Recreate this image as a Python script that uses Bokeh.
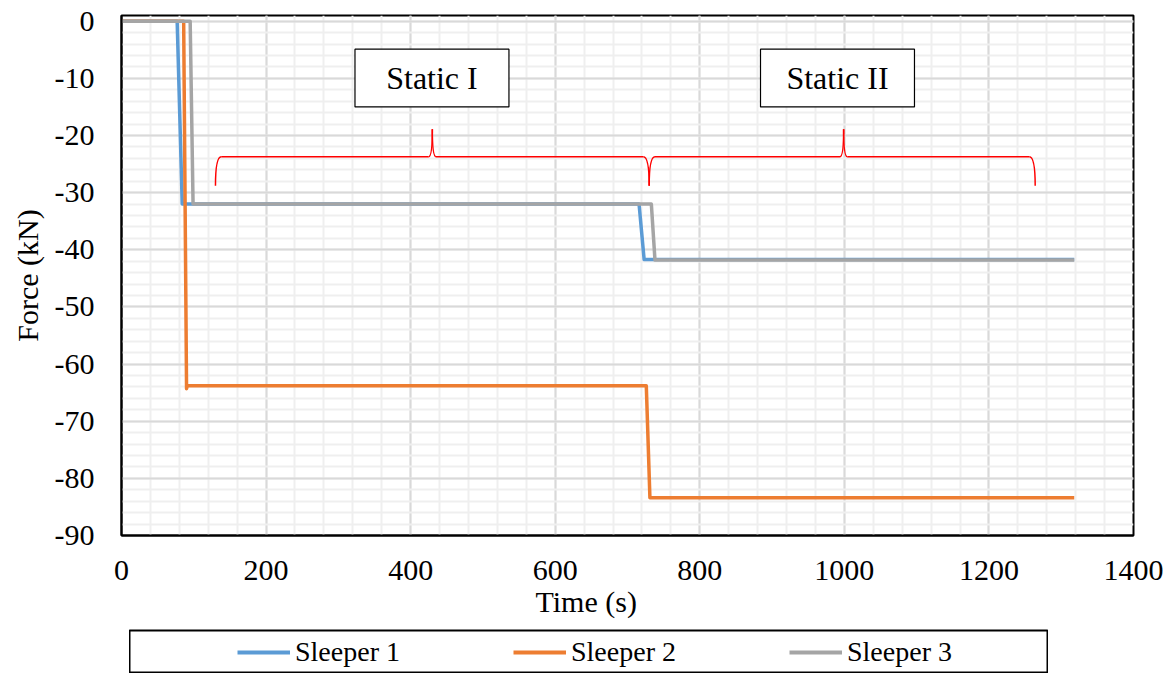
from bokeh.plotting import figure
from bokeh.models import Range1d, FixedTicker, Legend, LegendItem, Spacer, Title
from bokeh.layouts import column, row
from bokeh.core.properties import value
from bokeh.embed import file_html
from bokeh.resources import INLINE

# ---------------- data ----------------
time_1 = [0, 77, 84, 716, 723, 1318]
force_1 = [0, 0, -32.0, -32.0, -41.7, -41.7]

time_2 = [0, 86, 90, 91, 726, 731, 1318]
force_2 = [0, 0, -64.3, -63.8, -63.8, -83.4, -83.4]

time_3 = [0, 95, 99, 733, 738, 1318]
force_3 = [0, 0, -32.0, -32.0, -41.8, -41.8]

series_names = ["Sleeper 1", "Sleeper 2", "Sleeper 3"]
series_colors = ["#5B9BD5", "#ED7D31", "#A5A5A5"]

x_ticks = [0, 200, 400, 600, 800, 1000, 1200, 1400]
y_ticks = [0, -10, -20, -30, -40, -50, -60, -70, -80, -90]
y_tick_labels = ["0", "-10", "-20", "-30", "-40", "-50", "-60", "-70", "-80", "-90"]

# annotations: phase labels and braces
phase_labels = ["Static I", "Static II"]
phase_box_left = [323, 884]
phase_box_right = [536, 1097]
phase_box_top = [-4.9, -4.9]
phase_box_bottom = [-15.0, -15.0]

brace_start = [130, 730]
brace_mid = [430, 999]
brace_end = [730, 1264]
brace_level = -23.7
brace_foot = -28.8
brace_tip = -18.9

x_title = "Time (s)"
y_title = "Force (kN)"

FONT = "Liberation Serif"

# ---------------- main figure ----------------
p = figure(width=1176, height=629, output_backend="svg", toolbar_location=None,
           x_range=Range1d(0, 1400), y_range=Range1d(-90, 1),
           min_border_left=121, min_border_right=43, min_border_top=15,
           min_border_bottom=94)
p.background_fill_color = "white"
p.border_fill_color = "white"
p.outline_line_color = "black"
p.outline_line_width = 2

p.xaxis.ticker = FixedTicker(ticks=x_ticks, minor_ticks=list(range(0, 1401, 40)))
p.yaxis.ticker = FixedTicker(ticks=y_ticks, minor_ticks=list(range(-90, 1, 2)))
p.yaxis.major_label_overrides = {t: s for t, s in zip(y_ticks, y_tick_labels)}

for ax in (p.xaxis[0], p.yaxis[0]):
    ax.axis_line_color = "black"
    ax.axis_line_width = 2
    ax.major_tick_line_color = None
    ax.minor_tick_line_color = None
    ax.major_tick_out = 0
    ax.major_tick_in = 0
    ax.minor_tick_out = 0
    ax.major_label_text_font = FONT
    ax.major_label_text_font_size = "30px"
    ax.major_label_text_color = "black"
    ax.axis_label_text_font = FONT
    ax.axis_label_text_font_size = "30px"
    ax.axis_label_text_font_style = "normal"
    ax.axis_label_text_color = "black"

p.yaxis.axis_label = y_title
p.xaxis.major_label_standoff = 25
p.yaxis.major_label_standoff = 27
p.yaxis.axis_label_standoff = 8

for g in (p.xgrid[0], p.ygrid[0]):
    g.grid_line_color = "#d9d9d9"
    g.grid_line_width = 2
    g.minor_grid_line_color = "#efefef"
    g.minor_grid_line_width = 2

# x-axis title, sitting left of centre as in the original
p.add_layout(Title(text=x_title, align="left", offset=414, standoff=0,
                   text_font=FONT, text_font_size="30px",
                   text_font_style="normal", text_color="black"), "below")

# phase boxes
p.quad(left=phase_box_left, right=phase_box_right, top=phase_box_top,
       bottom=phase_box_bottom, fill_color="white", line_color="black",
       line_width=1.2)
p.text(x=[(a + b) / 2 for a, b in zip(phase_box_left, phase_box_right)],
       y=[(a + b) / 2 for a, b in zip(phase_box_top, phase_box_bottom)],
       text=phase_labels, text_font=value(FONT), text_font_size="32px",
       text_align="center", text_baseline="middle", text_color="black")

# braces (quadratic curves + straight segments)
dx_end = 8
dx_tip = 5
q_x0, q_y0, q_cx, q_cy, q_x1, q_y1 = [], [], [], [], [], []
s_x0, s_y0, s_x1, s_y1 = [], [], [], []
for xs, xm, xe in zip(brace_start, brace_mid, brace_end):
    q_x0.append(xs); q_y0.append(brace_foot); q_cx.append(xs); q_cy.append(brace_level)
    q_x1.append(xs + dx_end); q_y1.append(brace_level)
    q_x0.append(xm - dx_tip); q_y0.append(brace_level); q_cx.append(xm); q_cy.append(brace_level)
    q_x1.append(xm); q_y1.append(brace_tip)
    q_x0.append(xm); q_y0.append(brace_tip); q_cx.append(xm); q_cy.append(brace_level)
    q_x1.append(xm + dx_tip); q_y1.append(brace_level)
    q_x0.append(xe - dx_end); q_y0.append(brace_level); q_cx.append(xe); q_cy.append(brace_level)
    q_x1.append(xe); q_y1.append(brace_foot)
    s_x0 += [xs + dx_end, xm + dx_tip]
    s_x1 += [xm - dx_tip, xe - dx_end]
    s_y0 += [brace_level, brace_level]
    s_y1 += [brace_level, brace_level]

p.quadratic(x0=q_x0, y0=q_y0, cx=q_cx, cy=q_cy, x1=q_x1, y1=q_y1,
            line_color="#FF0000", line_width=1.5)
p.segment(x0=s_x0, y0=s_y0, x1=s_x1, y1=s_y1, line_color="#FF0000", line_width=1.5)

# series
for t, f, c in zip([time_1, time_2, time_3], [force_1, force_2, force_3], series_colors):
    p.line(t, f, line_color=c, line_width=3.5, line_join="round")

# ---------------- legend figure ----------------
lg = figure(width=919, height=44, output_backend="svg", toolbar_location=None,
            x_range=Range1d(0, 1), y_range=Range1d(0, 1),
            x_axis_type=None, y_axis_type=None,
            min_border_left=0, min_border_right=0, min_border_top=1,
            min_border_bottom=1)
lg.grid.visible = False
lg.outline_line_color = "black"
lg.outline_line_width = 2
lg.background_fill_color = "white"
lg.border_fill_color = "white"

nan = float("nan")
items = []
for name, c in zip(series_names, series_colors):
    r = lg.line(x=[nan], y=[nan], line_color=c, line_width=4)
    items.append(LegendItem(label=name, renderers=[r]))

legend = Legend(items=items, orientation="horizontal", location=(108, 4),
                padding=0, margin=0, spacing=108, glyph_width=53,
                glyph_height=30, label_standoff=5, label_width=110,
                label_text_font=FONT, label_text_font_size="28px",
                label_text_color="black", border_line_alpha=0,
                background_fill_alpha=0)
lg.add_layout(legend, "center")

layout = column(p, row(Spacer(width=129, height=44), lg, spacing=0), spacing=0)
open("out.html", "w").write(file_html(layout, INLINE))
